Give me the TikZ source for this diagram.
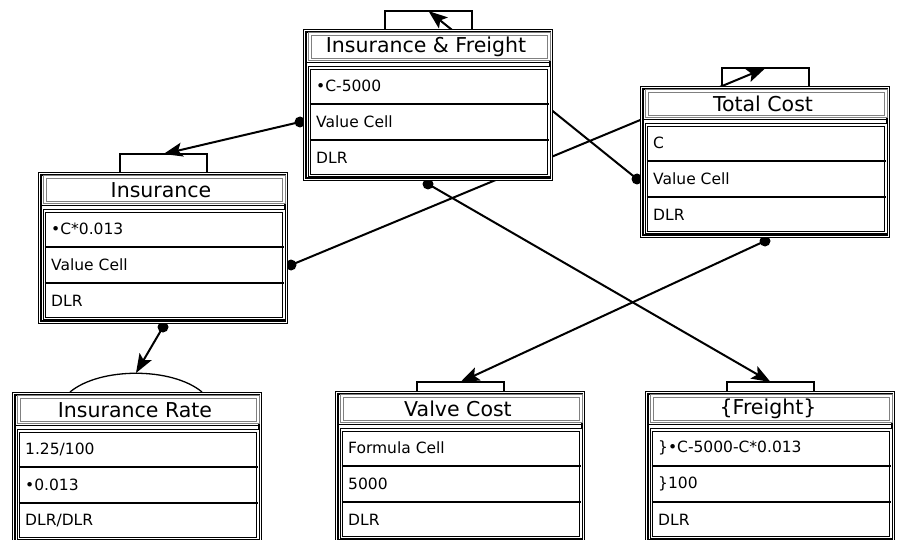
\documentclass[tikz,border=0pt]{standalone}
\usepackage{fontspec}
\setmainfont{DejaVu Sans}
\usetikzlibrary{arrows.meta,calc}
\pgfdeclarelayer{bg}
\pgfsetlayers{bg,main}
\newcommand*{\CellBox}[7]{
  \draw[frame,fill=white] (#1+1.7,#2+1.7) rectangle (#1+248.3,#2+150.3);
  \draw[titleframe] (#1+7,#2+5) rectangle (#1+246,#2+30.5);
  \node[boxtitle] (#3t) at (#1+123,#2+18) {#4};
  \draw[line width=1.3pt] (#1+2,#2+33.5) -- (#1+248,#2+33.5);
  \draw[frame] (#1+6.5,#2+39) rectangle (#1+246,#2+146.5);
  \draw[sep] (#1+6.5,#2+75) -- (#1+246,#2+75);
  \draw[sep] (#1+6.5,#2+111) -- (#1+246,#2+111);
  \node[cell] (#3a) at (#1+13,#2+57) {#5};
  \node[cell] (#3b) at (#1+13,#2+93) {#6};
  \node[cell] (#3c) at (#1+13,#2+129) {#7};
  \coordinate (#3l) at (#1-3,#2+93);
  \coordinate (#3r) at (#1+253,#2+93);
  \coordinate (#3d) at (#1+125,#2+155);
}
\newcommand*{\RectTab}[4]{
  \draw[tabline] (#1+82,#2) -- (#1+82,#2-#4) -- (#1+169,#2-#4) -- (#1+169,#2);
  \coordinate (#3tab) at (#1+125.5,#2-#4);
}
\newcommand*{\ArcTab}[3]{
  \draw[tabline] (#1+58,#2) .. controls (#1+88,#2-25) and (#1+160,#2-25) .. (#1+190,#2);
  \coordinate (#3tab) at (#1+124,#2-19);
}

\begin{document}
\begin{tikzpicture}[x=1pt,y=-1pt]
\tikzstyle{frame}=[double,double distance=1.5pt,line width=1.1pt]
\tikzstyle{titleframe}=[draw=gray,double,double distance=1.2pt,line width=1pt]
\tikzstyle{sep}=[line width=2.2pt]
\tikzstyle{tabline}=[line width=1.3pt]
\tikzstyle{boxtitle}=[inner sep=0pt,font=\fontsize{20.5}{24}\selectfont]
\tikzstyle{cell}=[anchor=west,inner sep=0pt,font=\fontsize{15.5}{18}\selectfont]
\tikzstyle{link}=[line width=2pt,-{Stealth[length=19pt,width=14pt,inset=4pt]}]
\tikzstyle{dot}=[fill,shape=circle,minimum size=11pt,inner sep=0pt]
\clip (0,0) rectangle (902,540);

\CellBox{303}{29}{inf}{Insurance \& Freight}{•C-5000}{Value Cell}{DLR}
\RectTab{303}{29}{inf}{18}
\CellBox{640}{86}{tot}{Total Cost}{C}{Value Cell}{DLR}
\RectTab{640}{86}{tot}{18}
\CellBox{38}{172}{ins}{Insurance}{•C*0.013}{Value Cell}{DLR}
\RectTab{38}{172}{ins}{18}
\CellBox{12}{392}{rate}{Insurance Rate}{1.25/100}{•0.013}{DLR/DLR}
\ArcTab{12}{392}{rate}
\CellBox{335}{391}{valve}{Valve Cost}{Formula Cell}{5000}{DLR}
\RectTab{335}{391}{valve}{9}
\CellBox{645}{391}{frt}{\{Freight\}}{\}•C-5000-C*0.013}{\}100}{DLR}
\RectTab{645}{391}{frt}{9}

\begin{pgfonlayer}{bg}
\draw[link] (infl) node[dot] (infldot) {} -- (instab);
\draw[link] (totl) node[dot] (totldot) {} -- (inftab);
\draw[link] (insr) node[dot] (insrdot) {} -- (tottab);
\draw[link] (insd) node[dot] (insddot) {} -- (ratetab);
\draw[link] (infd) node[dot] (infddot) {} -- (frttab);
\draw[link] (totd) node[dot] (totddot) {} -- (valvetab);
\end{pgfonlayer}

\end{tikzpicture}
\end{document}
